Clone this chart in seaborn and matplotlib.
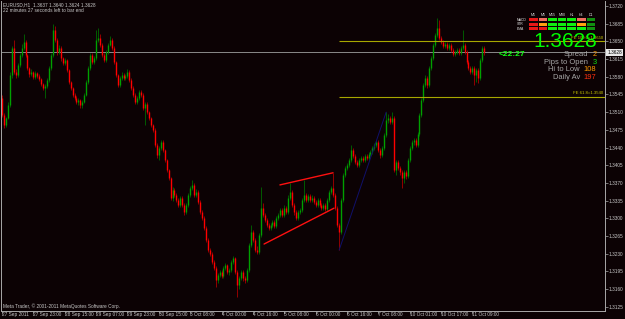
import matplotlib
matplotlib.use("Agg")
import matplotlib.pyplot as plt
import seaborn as sns
import pandas as pd
from matplotlib.patches import Rectangle

# ---------------- data (EURUSD H1) ----------------
open_first = 1.3538
close = [1.3504,1.3484,1.3498,1.3524,1.3583,1.3637,1.3589,1.3583,1.3603,1.3623,
         1.3637,1.3649,1.3623,1.3597,1.3585,1.3589,1.3579,1.3587,1.3582,1.3576,
         1.3566,1.3558,1.3562,1.3574,1.3597,1.3623,1.3673,1.3653,1.3629,1.3637,
         1.3617,1.3607,1.3613,1.3593,1.3570,1.3558,1.3544,1.3538,1.3530,1.3534,
         1.3524,1.3530,1.3544,1.3570,1.3597,1.3623,1.3609,1.3617,1.3653,1.3657,
         1.3643,1.3623,1.3613,1.3629,1.3643,1.3653,1.3637,1.3609,1.3583,1.3564,
         1.3578,1.3583,1.3578,1.3582,1.3589,1.3574,1.3558,1.3544,1.3530,1.3538,
         1.3550,1.3544,1.3518,1.3526,1.3510,1.3498,1.3484,1.3475,1.3445,1.3425,
         1.3439,1.3451,1.3435,1.3415,1.3395,1.3380,1.3340,1.3356,1.3346,1.3336,
         1.3326,1.3340,1.3326,1.3312,1.3326,1.3346,1.3360,1.3366,1.3346,1.3352,
         1.3332,1.3312,1.3300,1.3281,1.3257,1.3237,1.3229,1.3213,1.3201,1.3178,
         1.3188,1.3194,1.3186,1.3201,1.3207,1.3194,1.3198,1.3213,1.3221,1.3194,
         1.3168,1.3182,1.3194,1.3182,1.3178,1.3198,1.3247,1.3273,1.3257,1.3237,
         1.3233,1.3267,1.3320,1.3306,1.3297,1.3287,1.3281,1.3287,1.3293,1.3285,
         1.3300,1.3306,1.3316,1.3306,1.3320,1.3312,1.3340,1.3352,1.3326,1.3312,
         1.3300,1.3312,1.3316,1.3336,1.3346,1.3336,1.3344,1.3336,1.3340,1.3332,
         1.3326,1.3336,1.3326,1.3320,1.3326,1.3318,1.3336,1.3352,1.3360,1.3346,
         1.3320,1.3287,1.3273,1.3336,1.3386,1.3399,1.3405,1.3415,1.3435,1.3423,
         1.3411,1.3405,1.3415,1.3419,1.3415,1.3423,1.3419,1.3427,1.3431,1.3439,
         1.3445,1.3451,1.3435,1.3425,1.3439,1.3465,1.3494,1.3498,1.3490,1.3498,
         1.3395,1.3411,1.3399,1.3391,1.3380,1.3391,1.3384,1.3415,1.3439,1.3451,
         1.3455,1.3445,1.3467,1.3504,1.3534,1.3564,1.3578,1.3564,1.3597,1.3617,
         1.3643,1.3663,1.3676,1.3657,1.3649,1.3641,1.3645,1.3637,1.3643,1.3633,
         1.3625,1.3629,1.3633,1.3627,1.3637,1.3643,1.3629,1.3609,1.3597,1.3589,
         1.3597,1.3583,1.3593,1.3578,1.3613,1.3637,1.3628]
high = [1.3544,1.3508,1.3500,1.3530,1.3589,1.3641,1.3653,1.3595,1.3607,1.3627,
        1.3645,1.3665,1.3652,1.3625,1.3600,1.3595,1.3592,1.3592,1.3590,1.3585,
        1.3578,1.3568,1.3565,1.3578,1.3601,1.3627,1.3684,1.3680,1.3656,1.3642,
        1.3640,1.3620,1.3618,1.3615,1.3596,1.3572,1.3560,1.3548,1.3541,1.3538,
        1.3536,1.3534,1.3548,1.3574,1.3601,1.3627,1.3627,1.3621,1.3673,1.3676,
        1.3665,1.3647,1.3627,1.3633,1.3647,1.3660,1.3656,1.3640,1.3612,1.3586,
        1.3582,1.3590,1.3587,1.3586,1.3595,1.3593,1.3577,1.3561,1.3547,1.3542,
        1.3554,1.3554,1.3547,1.3530,1.3530,1.3513,1.3500,1.3487,1.3478,1.3448,
        1.3443,1.3455,1.3455,1.3438,1.3418,1.3398,1.3382,1.3362,1.3360,1.3350,
        1.3340,1.3344,1.3344,1.3330,1.3330,1.3350,1.3364,1.3376,1.3370,1.3358,
        1.3356,1.3336,1.3316,1.3304,1.3285,1.3261,1.3241,1.3233,1.3217,1.3205,
        1.3192,1.3198,1.3198,1.3205,1.3212,1.3210,1.3202,1.3217,1.3226,1.3224,
        1.3198,1.3186,1.3198,1.3198,1.3186,1.3202,1.3251,1.3287,1.3277,1.3260,
        1.3245,1.3271,1.3362,1.3330,1.3310,1.3300,1.3290,1.3291,1.3297,1.3296,
        1.3304,1.3310,1.3320,1.3320,1.3326,1.3324,1.3346,1.3370,1.3356,1.3330,
        1.3316,1.3316,1.3320,1.3340,1.3376,1.3350,1.3348,1.3348,1.3346,1.3344,
        1.3336,1.3340,1.3340,1.3330,1.3330,1.3330,1.3340,1.3356,1.3364,1.3390,
        1.3350,1.3324,1.3291,1.3340,1.3390,1.3403,1.3409,1.3419,1.3445,1.3439,
        1.3427,1.3415,1.3419,1.3423,1.3423,1.3427,1.3427,1.3431,1.3435,1.3443,
        1.3449,1.3455,1.3455,1.3439,1.3443,1.3469,1.3510,1.3506,1.3502,1.3510,
        1.3502,1.3415,1.3415,1.3403,1.3395,1.3395,1.3395,1.3419,1.3443,1.3455,
        1.3459,1.3459,1.3471,1.3508,1.3538,1.3568,1.3584,1.3582,1.3601,1.3621,
        1.3647,1.3667,1.3696,1.3692,1.3661,1.3653,1.3649,1.3649,1.3647,1.3647,
        1.3637,1.3633,1.3637,1.3637,1.3641,1.3673,1.3647,1.3633,1.3613,1.3601,
        1.3601,1.3601,1.3597,1.3597,1.3617,1.3641,1.3640]
low = [1.3500,1.3479,1.3481,1.3496,1.3520,1.3578,1.3585,1.3578,1.3580,1.3600,
       1.3620,1.3633,1.3620,1.3593,1.3580,1.3582,1.3575,1.3576,1.3578,1.3572,
       1.3562,1.3554,1.3538,1.3558,1.3570,1.3594,1.3620,1.3648,1.3624,1.3626,
       1.3612,1.3603,1.3603,1.3589,1.3566,1.3554,1.3540,1.3534,1.3526,1.3524,
       1.3518,1.3518,1.3528,1.3542,1.3566,1.3594,1.3605,1.3605,1.3613,1.3648,
       1.3639,1.3619,1.3609,1.3610,1.3626,1.3640,1.3633,1.3605,1.3579,1.3560,
       1.3560,1.3574,1.3574,1.3574,1.3578,1.3570,1.3554,1.3540,1.3526,1.3526,
       1.3534,1.3540,1.3514,1.3484,1.3506,1.3494,1.3480,1.3471,1.3441,1.3419,
       1.3415,1.3435,1.3431,1.3411,1.3391,1.3376,1.3336,1.3334,1.3342,1.3332,
       1.3322,1.3322,1.3322,1.3306,1.3308,1.3322,1.3342,1.3356,1.3342,1.3342,
       1.3328,1.3308,1.3296,1.3277,1.3253,1.3233,1.3225,1.3209,1.3197,1.3164,
       1.3172,1.3184,1.3182,1.3182,1.3197,1.3190,1.3188,1.3194,1.3209,1.3190,
       1.3144,1.3160,1.3178,1.3176,1.3172,1.3174,1.3194,1.3243,1.3253,1.3233,
       1.3229,1.3229,1.3263,1.3302,1.3293,1.3283,1.3277,1.3277,1.3283,1.3281,
       1.3281,1.3296,1.3302,1.3302,1.3302,1.3308,1.3308,1.3336,1.3322,1.3306,
       1.3296,1.3296,1.3308,1.3312,1.3332,1.3332,1.3332,1.3332,1.3332,1.3328,
       1.3322,1.3322,1.3322,1.3316,1.3316,1.3314,1.3314,1.3332,1.3348,1.3342,
       1.3316,1.3283,1.3237,1.3269,1.3332,1.3382,1.3395,1.3401,1.3411,1.3419,
       1.3407,1.3401,1.3401,1.3411,1.3411,1.3411,1.3415,1.3415,1.3423,1.3427,
       1.3435,1.3441,1.3431,1.3419,1.3421,1.3435,1.3461,1.3488,1.3486,1.3486,
       1.3391,1.3386,1.3395,1.3386,1.3360,1.3370,1.3378,1.3380,1.3411,1.3435,
       1.3445,1.3441,1.3441,1.3463,1.3500,1.3530,1.3560,1.3558,1.3560,1.3593,
       1.3613,1.3639,1.3659,1.3653,1.3645,1.3637,1.3637,1.3633,1.3633,1.3629,
       1.3621,1.3621,1.3625,1.3623,1.3623,1.3633,1.3625,1.3605,1.3593,1.3585,
       1.3585,1.3564,1.3570,1.3568,1.3574,1.3609,1.3624]

tick_bars = [0, 16, 32, 48, 64, 80, 96, 112, 128, 144, 160, 176, 192, 208, 224, 240]
tick_labels = ["27 Sep 2011", "27 Sep 23:00", "28 Sep 15:00", "29 Sep 07:00",
               "29 Sep 23:00", "30 Sep 15:00", "3 Oct 08:00", "4 Oct 00:00",
               "4 Oct 16:00", "5 Oct 08:00", "6 Oct 00:00", "6 Oct 16:00",
               "7 Oct 08:00", "10 Oct 01:00", "10 Oct 17:00", "11 Oct 09:00"]
price_ticks = [1.3720, 1.3685, 1.3650, 1.3615, 1.3580, 1.3545, 1.3510, 1.3475,
               1.3440, 1.3405, 1.3370, 1.3335, 1.3300, 1.3265, 1.3230, 1.3195,
               1.3160, 1.3125]
bid = 1.3628
fe_levels = [1.3650, 1.3540]
fe_labels = ["FE 100.0=1.3650", "FE 61.8=1.3540"]
fe_start_bar = 171.9
tri_upper_bar = [141.8, 168.9]
tri_upper_px = [1.3366, 1.3390]
tri_lower_bar = [133.7, 169.4]
tri_lower_px = [1.3249, 1.3320]
proj_bar = [172, 196]
proj_px = [1.3237, 1.3510]

timeframes = ["M1", "M5", "M15", "M30", "H1", "H4", "D1"]
indicators = ["MACD", "STR", "EMA"]
signals = [["R", "S", "G", "G", "G", "S", "D"],
           ["R", "O", "G", "G", "G", "O", "D"],
           ["R", "R", "G", "G", "G", "G", "D"]]
info_labels = ["Spread", "Pips to Open", "Hi to Low", "Daily Av"]
info_values = ["2", "3", "108", "197"]
timer_text = "<22:27"

# ---------------- styling ----------------
BG = "#0c0204"
FG = "#c8c8c8"
AXC = "#a8a8a8"
sns.set_style("dark", {"axes.facecolor": BG, "figure.facecolor": BG})
plt.rcParams["font.family"] = ["Liberation Sans", "DejaVu Sans"]

W, H = 625, 319
fig = plt.figure(figsize=(W / 100, H / 100), dpi=100, facecolor=BG)
ax = fig.add_axes([1 / W, 8 / H, 604 / W, 310 / H])
ax.set_facecolor(BG)
ax.grid(False)

opens = [open_first] + close[:-1]
df = pd.DataFrame({"bar": range(len(close)), "open": opens, "close": close,
                   "high": high, "low": low})
df["up"] = df["close"] >= df["open"]
df["btop"] = df[["open", "close"]].max(axis=1)
df["bbot"] = df[["open", "close"]].min(axis=1)
up = df[df["up"]]
dn = df[~df["up"]]
ax.vlines(up["bar"], up["low"], up["high"], color="#006a00", lw=0.6)
ax.vlines(dn["bar"], dn["low"], dn["high"], color="#a80000", lw=0.6)
ax.vlines(up["bar"], up["bbot"], up["btop"], color="#00a000", lw=1.0)
ax.vlines(dn["bar"], dn["bbot"], dn["btop"], color="#ff0000", lw=1.0)

XMIN, XMAX = -0.51, 307.65
ax.set_xlim(XMIN, XMAX)
ax.set_ylim(1.311652, 1.372989)

# bid line
ax.axhline(bid, color="#8a8a8a", lw=0.7, zorder=1)
# FE levels
for lv, lb in zip(fe_levels, fe_labels):
    ax.hlines(lv, fe_start_bar, XMAX, color="#a8a800", lw=0.8)
    ax.text(XMAX - 1, lv + 0.0003, lb, color="#c8c800", fontsize=3.1,
            ha="right", va="bottom", zorder=1)

# trendlines via seaborn
sns.lineplot(x=tri_upper_bar, y=tri_upper_px, ax=ax, color="#ff1010", lw=1.0)
sns.lineplot(x=tri_lower_bar, y=tri_lower_px, ax=ax, color="#ff1010", lw=1.0)
sns.lineplot(x=proj_bar, y=proj_px, ax=ax, color="#10106a", lw=0.7)

# axes
for s in ["left", "bottom", "right"]:
    ax.spines[s].set_color(AXC)
    ax.spines[s].set_linewidth(0.7)
ax.spines["top"].set_visible(False)
ax.yaxis.tick_right()
ax.set_yticks(price_ticks)
ax.set_yticklabels([f"{v:.4f}" for v in price_ticks])
ax.tick_params(axis="y", right=True, left=False, direction="out", length=2,
               width=0.5, color=AXC, labelcolor=FG, labelsize=3.4, pad=0.8)
ax.set_xticks(tick_bars)
ax.set_xticklabels(tick_labels)
ax.tick_params(axis="x", bottom=True, direction="out", length=2.2, width=0.5,
               color=AXC, labelcolor=FG, labelsize=3.4, pad=-1.4)
for t in ax.get_xticklabels():
    t.set_ha("left")
ax.set_xlabel("")
ax.set_ylabel("")

# bid price box on axis
ax.text(1.004, bid, f"{bid:.4f}", transform=ax.get_yaxis_transform(),
        fontsize=3.4, color="black", ha="left", va="center",
        bbox=dict(boxstyle="square,pad=0.25", fc="#e8e8e8", ec="none"))


def px(x, y):
    return x / W, 1 - y / H


# header texts
fig.text(*px(3, 5), "EURUSD,H1  1.3637 1.3640 1.3624 1.3628", color=FG,
         fontsize=3.4, va="center", ha="left")
fig.text(*px(3, 10.7), "22 minutes 27 seconds left to bar end", color=FG,
         fontsize=3.4, va="center", ha="left")
fig.text(*px(3, 306), "Meta Trader, \u00a9 2001-2011 MetaQuotes Software Corp.",
         color=FG, fontsize=3.4, va="center", ha="left")

# signal panel
cmap = {"R": "#e81818", "S": "#f07060", "O": "#ffa010", "G": "#10f010",
        "D": "#109010"}
col_x = [529, 538.7, 548.3, 557.8, 567.3, 577, 586.6]
row_y = [18.3, 22.8, 27.3]
for j, tf in enumerate(timeframes):
    fig.text(*px(col_x[j] + 4.3, 14.7), tf, color="#e0e0e0", fontsize=2.6,
             ha="center", va="center")
for r, name in enumerate(indicators):
    fig.text(*px(517, row_y[r] + 1.5), name, color="#e0e0e0", fontsize=2.4,
             ha="left", va="center")
    for j in range(len(timeframes)):
        x0, y0 = px(col_x[j], row_y[r] + 3)
        fig.add_artist(Rectangle((x0, y0), 8.6 / W, 3 / H,
                                 transform=fig.transFigure,
                                 color=cmap[signals[r][j]], lw=0))

fig.text(*px(597, 41.5), f"{bid:.4f}", color="#00ff00", fontsize=15,
         ha="right", va="center")
fig.text(*px(499, 55), timer_text, color="#10ff10", fontsize=6,
         fontweight="bold", ha="left", va="center")

label_right = [588, 588, 580, 580]
rows_y = [55, 62.3, 69.8, 77.2]
val_colors = ["#ff9900", "#10e010", "#ff9900", "#ff3010"]
for lb, v, lr, yy, vc in zip(info_labels, info_values, label_right, rows_y,
                            val_colors):
    fig.text(*px(lr, yy), lb, color="#a8a8a8", fontsize=5.4, ha="right",
             va="center")
    fig.text(*px(596.5, yy), v, color=vc, fontsize=5.4, ha="right",
             va="center")

fig.savefig("out.png", dpi=100, facecolor=BG)
